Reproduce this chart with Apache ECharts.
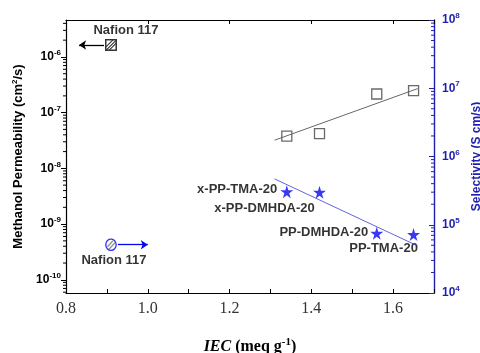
<!DOCTYPE html>
<html>
<head>
<meta charset="utf-8">
<script src="https://cdn.jsdelivr.net/npm/echarts@6/dist/echarts.min.js"></script>
<style>
  html, body { margin: 0; padding: 0; background: #fff; }
  #chart { width: 480px; height: 353px; }
</style>
</head>
<body>
<div id="chart"></div>
<script>
  // membranes (IEC in meq/g)
  const membranes = ['x-PP-TMA-20', 'x-PP-DMHDA-20', 'PP-DMHDA-20', 'PP-TMA-20'];
  const iec = [1.34, 1.42, 1.56, 1.65];
  const permeability = [3.8e-8, 4.2e-8, 2.16e-7, 2.48e-7];   // cm2/s, left axis
  const selectivity = [3.05e5, 3.0e5, 7.5e4, 7.2e4];         // S cm/s, right axis

  // Nafion 117 reference
  const nafionIec = 0.91;
  const nafionPerm = 1.64e-6;
  const nafionSel = 5.1e4;

  // trend lines as drawn in the figure
  const permFit = [[1.31, 3.2e-8], [1.66, 2.7e-7]];
  const selFit = [[1.31, 4.7e5], [1.66, 4.9e4]];

  // arrows next to the Nafion markers
  const permArrow = [[0.893, 0.832], nafionPerm];
  const selArrow = [[0.927, 1.0], nafionSel];

  // axis ranges
  const xMin = 0.8, xMax = 1.7;
  const permMin = 5.8e-11, permMax = 4.6e-6;
  const selMin = 1e4, selMax = 1e8;

  const blue = '#0808f0';
  const axisBlue = '#1f1fb0';
  const sans = 'Liberation Sans';
  const serif = 'Liberation Serif';

  const star = 'path://M50,0 L61,35 L98,35 L68,57 L79,91 L50,70 L21,91 L32,57 L2,35 L39,35 Z';

  function svgSymbol(svg) {
    return 'image://data:image/svg+xml;utf8,' + encodeURIComponent(svg);
  }
  const hatchSquare = svgSymbol(
    "<svg xmlns='http://www.w3.org/2000/svg' width='12' height='12'>" +
    "<rect x='0.75' y='0.75' width='10.5' height='10.5' fill='white' stroke='black' stroke-width='1.5'/>" +
    "<path d='M1 8 L8 1 M1 11.5 L11.5 1 M4 11.5 L11.5 4' stroke='black' stroke-width='1.1'/></svg>"
  );
  const hatchCircle = svgSymbol(
    "<svg xmlns='http://www.w3.org/2000/svg' width='12' height='13'>" +
    "<ellipse cx='6' cy='6.5' rx='5.2' ry='5.7' fill='white' stroke='" + blue + "' stroke-width='1.4'/>" +
    "<path d='M2.5 8.5 L8 2.5 M4 11 L10 4.5' stroke='#777' stroke-width='1.3'/></svg>"
  );

  // 2..9 x 10^n positions for log minor ticks
  function logMinor(min, max) {
    const out = [];
    for (let e = Math.floor(Math.log10(min)); e <= Math.ceil(Math.log10(max)); e++) {
      for (let m = 2; m <= 9; m++) {
        const v = m * Math.pow(10, e);
        if (v > min && v < max) out.push(v);
      }
    }
    return out;
  }

  // 10^n labels, nothing for in-between values
  function powLabel(value) {
    const exp = Math.round(Math.log10(value));
    if (Math.abs(value / Math.pow(10, exp) - 1) > 1e-6) return '';
    return '{b|10}{s|' + exp + '}';
  }
  function powRich(color) {
    return {
      b: { fontFamily: sans, fontWeight: 'bold', fontSize: 12, color: color },
      s: { fontFamily: sans, fontWeight: 'bold', fontSize: 8, color: color, padding: [0, 0, 8, 0] }
    };
  }

  // small tick marks drawn on an axis edge
  function minorTickSeries(yIndex, edgeX, dir, color, values) {
    return {
      type: 'custom',
      yAxisIndex: yIndex,
      silent: true,
      clip: false,
      z: 5,
      data: values.map(v => [edgeX, v]),
      renderItem: function (params, api) {
        const p = api.coord([api.value(0), api.value(1)]);
        return {
          type: 'line',
          shape: { x1: p[0], y1: p[1], x2: p[0] + dir * 3, y2: p[1] },
          style: { stroke: color, lineWidth: 1 }
        };
      }
    };
  }

  const chart = echarts.init(document.getElementById('chart'));
  const option = {
    animation: false,
    grid: { left: 66, right: 46, top: 20, bottom: 60, outerBoundsMode: 'none', containLabel: false },
    xAxis: [
      {
        type: 'value',
        min: xMin,
        max: xMax,
        interval: 0.2,
        position: 'bottom',
        splitLine: { show: false },
        axisLine: { lineStyle: { color: '#000', width: 1.2 } },
        axisTick: { inside: true, length: 4, lineStyle: { color: '#000' } },
        minorTick: { show: true, splitNumber: 2, length: 4, lineStyle: { color: '#000' } },
        axisLabel: {
          margin: 8,
          fontFamily: serif,
          fontSize: 16,
          color: '#333',
          formatter: v => v.toFixed(1),
          showMaxLabel: false
        },
        name: '{i|IEC} (meq g{s|-1})',
        nameLocation: 'middle',
        nameGap: 44,
        nameTextStyle: {
          rich: {
            i: { fontFamily: serif, fontWeight: 'bold', fontStyle: 'italic', fontSize: 16, color: '#000' },
            s: { fontFamily: serif, fontWeight: 'bold', fontSize: 11, color: '#000', padding: [0, 0, 8, 0] }
          },
          fontFamily: serif,
          fontWeight: 'bold',
          fontSize: 16,
          color: '#000'
        }
      },
      {
        // top frame
        type: 'value',
        min: xMin,
        max: xMax,
        interval: 0.2,
        position: 'top',
        splitLine: { show: false },
        axisLine: { lineStyle: { color: '#000', width: 1.2 } },
        axisTick: { inside: true, length: 4, lineStyle: { color: '#000' } },
        axisLabel: { show: false }
      }
    ],
    yAxis: [
      {
        type: 'log',
        min: permMin,
        max: permMax,
        logBase: 10,
        position: 'left',
        splitLine: { show: false },
        axisLine: { show: true, lineStyle: { color: '#000', width: 1.2 } },
        axisTick: { show: true, length: 5, lineStyle: { color: '#000' } },
        axisLabel: {
          margin: 5,
          showMinLabel: false,
          showMaxLabel: false,
          formatter: powLabel,
          rich: powRich('#000')
        },
        name: 'Methanol Permeability (cm{s|2}/s)',
        nameLocation: 'middle',
        nameRotate: 90,
        nameGap: 38,
        nameTextStyle: {
          fontFamily: sans,
          fontWeight: 'bold',
          fontSize: 13,
          color: '#000',
          rich: {
            s: { fontFamily: sans, fontSize: 8, color: '#000', padding: [0, 0, 7, 0] }
          }
        }
      },
      {
        type: 'log',
        min: selMin,
        max: selMax,
        logBase: 10,
        position: 'right',
        splitLine: { show: false },
        axisLine: { show: true, lineStyle: { color: axisBlue, width: 1.4 } },
        axisTick: { show: true, inside: true, length: 5, lineStyle: { color: axisBlue } },
        axisLabel: {
          margin: 8,
          formatter: powLabel,
          rich: powRich(axisBlue)
        },
        name: 'Selectivity (S cm/s)',
        nameLocation: 'middle',
        nameRotate: 90,
        nameGap: 36,
        nameTextStyle: { fontFamily: sans, fontWeight: 'bold', fontSize: 12, color: axisBlue }
      }
    ],
    series: [
      minorTickSeries(0, xMin, -1, '#000', logMinor(permMin, permMax)),
      minorTickSeries(1, xMax, -1, axisBlue, logMinor(selMin, selMax)),
      {
        name: 'permeability fit',
        type: 'line',
        yAxisIndex: 0,
        data: permFit,
        showSymbol: false,
        silent: true,
        lineStyle: { color: '#666', width: 1 }
      },
      {
        name: 'selectivity fit',
        type: 'line',
        yAxisIndex: 1,
        data: selFit,
        showSymbol: false,
        silent: true,
        lineStyle: { color: '#3b3bd0', width: 0.8 }
      },
      {
        name: 'Permeability',
        type: 'scatter',
        yAxisIndex: 0,
        symbol: 'rect',
        symbolSize: 10,
        itemStyle: { color: '#fff', borderColor: '#444', borderWidth: 1.3 },
        data: iec.map((x, i) => [x, permeability[i]])
      },
      {
        name: 'Selectivity',
        type: 'scatter',
        yAxisIndex: 1,
        symbol: star,
        symbolSize: 13,
        itemStyle: { color: blue },
        label: {
          show: true,
          fontFamily: sans,
          fontWeight: 'bold',
          fontSize: 13,
          color: '#000',
          formatter: p => membranes[p.dataIndex]
        },
        data: iec.map((x, i) => {
          const labelPos = [
            { position: 'left', distance: 3, offset: [0, -2] },
            { position: 'bottom', distance: 2, offset: [-55, 1] },
            { position: 'left', distance: 2, offset: [0, -1] },
            { position: 'bottom', distance: 1, offset: [-30, 0] }
          ][i];
          return { value: [x, selectivity[i]], label: labelPos };
        })
      },
      {
        name: 'Nafion 117 permeability',
        type: 'scatter',
        yAxisIndex: 0,
        symbol: hatchSquare,
        symbolSize: 12,
        label: {
          show: true,
          position: 'top',
          distance: 2,
          offset: [15, 0],
          fontFamily: sans,
          fontWeight: 'bold',
          fontSize: 13,
          color: '#000',
          formatter: 'Nafion 117'
        },
        data: [[nafionIec, nafionPerm]],
        markLine: {
          silent: true,
          symbol: ['none', 'arrow'],
          symbolSize: 7,
          label: { show: false },
          lineStyle: { color: '#000', width: 1.3, type: 'solid' },
          data: [[
            { coord: [permArrow[0][0], permArrow[1]] },
            { coord: [permArrow[0][1], permArrow[1]] }
          ]]
        }
      },
      {
        name: 'Nafion 117 selectivity',
        type: 'scatter',
        yAxisIndex: 1,
        symbol: hatchCircle,
        symbolSize: [12, 13],
        label: {
          show: true,
          position: 'bottom',
          distance: 3,
          offset: [3, 0],
          fontFamily: sans,
          fontWeight: 'bold',
          fontSize: 13,
          color: '#000',
          formatter: 'Nafion 117'
        },
        data: [[nafionIec, nafionSel]],
        markLine: {
          silent: true,
          symbol: ['none', 'arrow'],
          symbolSize: 7,
          label: { show: false },
          lineStyle: { color: blue, width: 1.3, type: 'solid' },
          data: [[
            { coord: [selArrow[0][0], selArrow[1]] },
            { coord: [selArrow[0][1], selArrow[1]] }
          ]]
        }
      }
    ]
  };
  chart.setOption(option);
  window.addEventListener('resize', () => {
    chart.resize();
  });
</script>
</body>
</html>
